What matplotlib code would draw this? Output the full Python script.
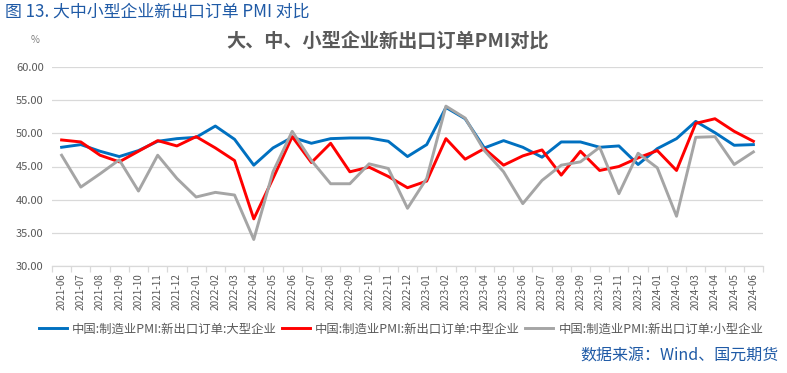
import matplotlib
matplotlib.use("Agg")
import matplotlib.pyplot as plt
import numpy as np

plt.rcParams['font.family'] = ['Noto Sans CJK SC', 'DejaVu Sans']

months = ["2021-06", "2021-07", "2021-08", "2021-09", "2021-10", "2021-11", "2021-12",
          "2022-01", "2022-02", "2022-03", "2022-04", "2022-05", "2022-06", "2022-07",
          "2022-08", "2022-09", "2022-10", "2022-11", "2022-12", "2023-01", "2023-02",
          "2023-03", "2023-04", "2023-05", "2023-06", "2023-07", "2023-08", "2023-09",
          "2023-10", "2023-11", "2023-12", "2024-01", "2024-02", "2024-03", "2024-04",
          "2024-05", "2024-06"]

large = [47.9, 48.3, 47.3, 46.5, 47.4, 48.8, 49.2, 49.4, 51.1, 49.1, 45.2, 47.8, 49.4,
         48.5, 49.2, 49.3, 49.3, 48.8, 46.5, 48.3, 53.9, 52.2, 47.8, 48.9, 47.9, 46.4,
         48.7, 48.7, 47.9, 48.1, 45.3, 47.7, 49.2, 51.8, 50.1, 48.2, 48.3]
medium = [49.0, 48.7, 46.7, 45.7, 47.3, 48.9, 48.1, 49.5, 47.8, 45.9, 37.1, 43.2, 49.5,
          45.6, 48.5, 44.2, 44.9, 43.5, 41.8, 42.8, 49.2, 46.1, 47.7, 45.2, 46.6, 47.5,
          43.7, 47.3, 44.4, 45.0, 46.3, 47.4, 44.4, 51.5, 52.2, 50.3, 48.8]
small = [46.7, 41.9, 43.9, 46.0, 41.3, 46.7, 43.2, 40.4, 41.1, 40.7, 34.0, 44.2, 50.3,
         45.9, 42.4, 42.4, 45.4, 44.7, 38.7, 43.2, 54.1, 52.3, 47.4, 44.2, 39.4, 42.9,
         45.2, 45.7, 47.9, 40.9, 47.0, 44.8, 37.5, 49.4, 49.5, 45.3, 47.2]

series_names = ["中国:制造业PMI:新出口订单:大型企业",
                "中国:制造业PMI:新出口订单:中型企业",
                "中国:制造业PMI:新出口订单:小型企业"]
colors = ["#0070C0", "#FF0000", "#A5A5A5"]
yticks = [30, 35, 40, 45, 50, 55, 60]

fig = plt.figure(figsize=(7.87, 3.73), dpi=100)
ax = fig.add_axes([52/787, 1-266/373, (763-52)/787, (266-67)/373])

x = np.arange(len(months))
for vals, name, c in zip([large, medium, small], series_names, colors):
    ax.plot(x, vals, color=c, lw=2.1, label=name, solid_joinstyle='round')

ax.set_xlim(-0.5, len(months)-0.5)
ax.set_ylim(30, 60)
ax.set_yticks(yticks)
ax.set_yticklabels([f"{v:.2f}" for v in yticks], fontsize=8, color="#595959")
ax.yaxis.grid(True, color="#D9D9D9", lw=0.9)
ax.set_axisbelow(True)
ax.tick_params(axis='y', length=0, pad=6)

ax.set_xticks(x)
ax.set_xticklabels(months, rotation=90, fontsize=7.2, color="#595959")
ax.set_xticks(np.arange(len(months)+1)-0.5, minor=True)
ax.tick_params(axis='x', which='major', length=0, pad=5)
ax.tick_params(axis='x', which='minor', length=4, color="#D9D9D9", width=0.9)

for s in ['top', 'right', 'left']:
    ax.spines[s].set_visible(False)
ax.spines['bottom'].set_color("#D9D9D9")
ax.spines['bottom'].set_linewidth(0.9)

fig.text(5/787, 1-12/373, "图 13. 大中小型企业新出口订单 PMI 对比", fontsize=12.2,
         color="#1F5AA6", ha='left', va='center')
fig.text(388/787, 1-42/373, "大、中、小型企业新出口订单PMI对比", fontsize=13.8,
         fontweight='bold', color="#595959", ha='center', va='center')
fig.text(35/787, 1-40/373, "%", fontsize=7, color="#7F7F7F", ha='center', va='center')

fig.legend(loc='center', bbox_to_anchor=(401/787, 1-329/373), ncol=3, frameon=False,
           fontsize=8.9, handlelength=2.3, handletextpad=0.4, columnspacing=0.4,
           labelcolor="#595959")

fig.text(779/787, 1-356/373, "数据来源：Wind、国元期货", fontsize=11.5,
         color="#1F5AA6", ha='right', va='center')

fig.savefig("out.png", dpi=100)
